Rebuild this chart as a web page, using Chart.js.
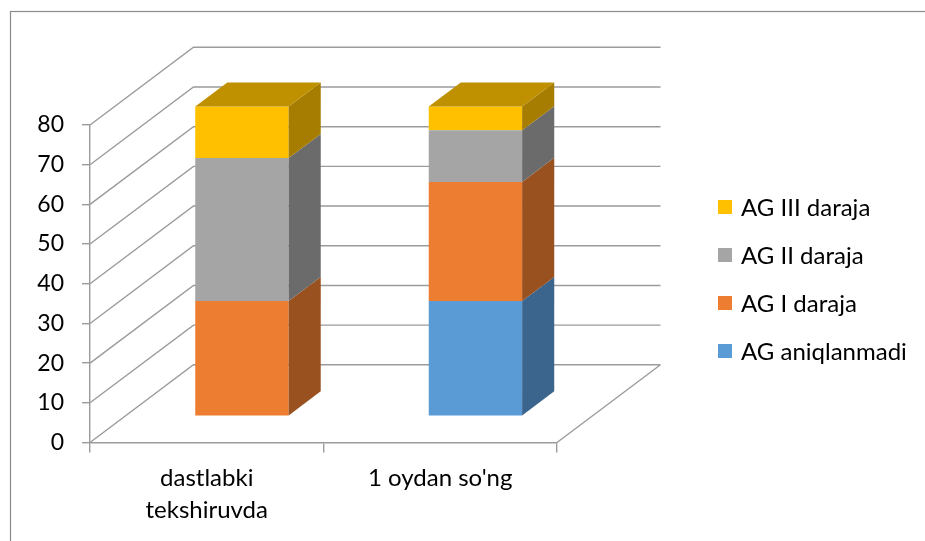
<!DOCTYPE html>
<html>
<head>
<meta charset="utf-8">
<script src="https://cdn.jsdelivr.net/npm/chart.js@4/dist/chart.umd.min.js"></script>
<style>
  html, body { margin: 0; padding: 0; background: #ffffff; }
  #wrap { position: relative; width: 925px; height: 541px; }
</style>
</head>
<body>
<div id="wrap"><canvas id="c" width="925" height="541"></canvas></div>
<script>
// Categories and series (patients per group)
const categories = [['dastlabki', 'tekshiruvda'], "1 oydan so'ng"];
const seriesNames = ['AG aniqlanmadi', 'AG I daraja', 'AG II daraja', 'AG III daraja'];
const agAniqlanmadi = [0, 29];
const agIDaraja = [29, 30];
const agIIDaraja = [36, 13];
const agIIIDaraja = [13, 6];
const yMin = 0, yMax = 80, yStep = 10;

const frontColors = ['#5B9BD5', '#ED7D31', '#A5A5A5', '#FFC000'];
const sideColors  = ['#3B658C', '#9A5120', '#6B6B6B', '#A67D00'];
const topColors   = ['#4A77A6', '#B35E25', '#7E7E7E', '#BF9000'];

const FONT = 'Lato, "Open Sans", sans-serif';
const GRID = '#9b9b9b';

// oblique depth of the plot box and of the bars inside it
const DEPTH = { dx: 103.5, dy: -77.7 };
const BAR_FRONT = 0.34;   // bars' front plane, as a fraction of depth
const BAR_DEPTH = 0.31;   // bars' thickness, as a fraction of depth

const seriesValues = [agAniqlanmadi, agIDaraja, agIIDaraja, agIIIDaraja];

const box3d = {
  id: 'box3d',
  beforeDraw(chart) {
    const ctx = chart.ctx;
    ctx.save();
    ctx.strokeStyle = '#8c8c8c';
    ctx.lineWidth = 1.2;
    ctx.strokeRect(10.5, 11.5, 1000, 1000);
    ctx.restore();
  },
  beforeDatasetsDraw(chart) {
    const ctx = chart.ctx;
    const a = chart.chartArea;
    const y = chart.scales.y;
    ctx.save();
    ctx.strokeStyle = GRID;
    ctx.lineWidth = 1.4;
    ctx.lineCap = 'butt';
    ctx.beginPath();
    for (let v = yMin; v <= yMax; v += yStep) {
      const py = y.getPixelForValue(v);
      // side wall
      ctx.moveTo(a.left, py);
      ctx.lineTo(a.left + DEPTH.dx, py + DEPTH.dy);
      // back wall
      ctx.lineTo(a.right + DEPTH.dx, py + DEPTH.dy);
    }
    // floor right edge
    const p0 = y.getPixelForValue(0);
    ctx.moveTo(a.right, p0);
    ctx.lineTo(a.right + DEPTH.dx, p0 + DEPTH.dy);
    ctx.stroke();
    ctx.restore();

    // bars live on a plane set back inside the box
    ctx.save();
    ctx.translate(DEPTH.dx * BAR_FRONT, DEPTH.dy * BAR_FRONT);
  },
  afterDatasetsDraw(chart) {
    const ctx = chart.ctx;
    const sdx = DEPTH.dx * BAR_DEPTH, sdy = DEPTH.dy * BAR_DEPTH;
    const n = chart.data.labels.length;
    for (let i = 0; i < n; i++) {
      let topIdx = -1, topEl = null;
      chart.data.datasets.forEach((ds, d) => {
        const el = chart.getDatasetMeta(d).data[i];
        if (!el || !ds.data[i]) return;
        const { x, y, base, width } = el.getProps(['x', 'y', 'base', 'width'], true);
        const r = x + width / 2;
        ctx.fillStyle = sideColors[d];
        ctx.beginPath();
        ctx.moveTo(r, y);
        ctx.lineTo(r + sdx, y + sdy);
        ctx.lineTo(r + sdx, base + sdy);
        ctx.lineTo(r, base);
        ctx.closePath();
        ctx.fill();
        topIdx = d; topEl = { x, y, width };
      });
      if (topEl) {
        const l = topEl.x - topEl.width / 2, r = topEl.x + topEl.width / 2;
        ctx.fillStyle = topColors[topIdx];
        ctx.beginPath();
        ctx.moveTo(l, topEl.y);
        ctx.lineTo(r, topEl.y);
        ctx.lineTo(r + sdx, topEl.y + sdy);
        ctx.lineTo(l + sdx, topEl.y + sdy);
        ctx.closePath();
        ctx.fill();
      }
    }
    ctx.restore();
  }
};

// legend at the right, listed from the top series down
const sideLegend = {
  id: 'sideLegend',
  afterDraw(chart) {
    const ctx = chart.ctx;
    const ds = chart.data.datasets;
    ctx.save();
    ctx.font = '24px ' + FONT;
    ctx.textBaseline = 'middle';
    let yc = 207;
    for (let d = ds.length - 1; d >= 0; d--) {
      ctx.fillStyle = ds[d].backgroundColor;
      ctx.fillRect(718, yc - 7, 14, 14);
      ctx.fillStyle = '#000000';
      ctx.fillText(ds[d].label, 741, yc + 1);
      yc += 48;
    }
    ctx.restore();
  }
};

new Chart(document.getElementById('c'), {
  type: 'bar',
  data: {
    labels: categories,
    datasets: seriesNames.map((name, i) => ({
      label: name,
      data: seriesValues[i],
      backgroundColor: frontColors[i],
      borderWidth: 0,
      barPercentage: 0.4,
      categoryPercentage: 1.0,
      clip: false
    }))
  },
  options: {
    responsive: false,
    animation: false,
    layout: { padding: { left: 10, top: 125, right: 368, bottom: 0 } },
    plugins: { legend: { display: false }, tooltip: { enabled: false } },
    scales: {
      x: {
        stacked: true,
        afterFit(scale) { scale.height = 98.5; },
        grid: { drawOnChartArea: false, drawTicks: true, tickLength: 10, color: GRID, lineWidth: 1.4 },
        border: { display: true, color: GRID, width: 1.4 },
        ticks: { font: { family: FONT, size: 24, lineHeight: 1.32 }, color: '#000000', padding: 10, maxRotation: 0 }
      },
      y: {
        stacked: true,
        min: yMin, max: yMax,
        afterFit(scale) { scale.width = 80; },
        grid: { drawOnChartArea: false, drawTicks: true, tickLength: 8, color: GRID, lineWidth: 1.4 },
        border: { display: true, color: GRID, width: 1.4 },
        ticks: { stepSize: yStep, font: { family: FONT, size: 23 }, color: '#000000', padding: 18 }
      }
    }
  },
  plugins: [box3d, sideLegend]
});
</script>
</body>
</html>
